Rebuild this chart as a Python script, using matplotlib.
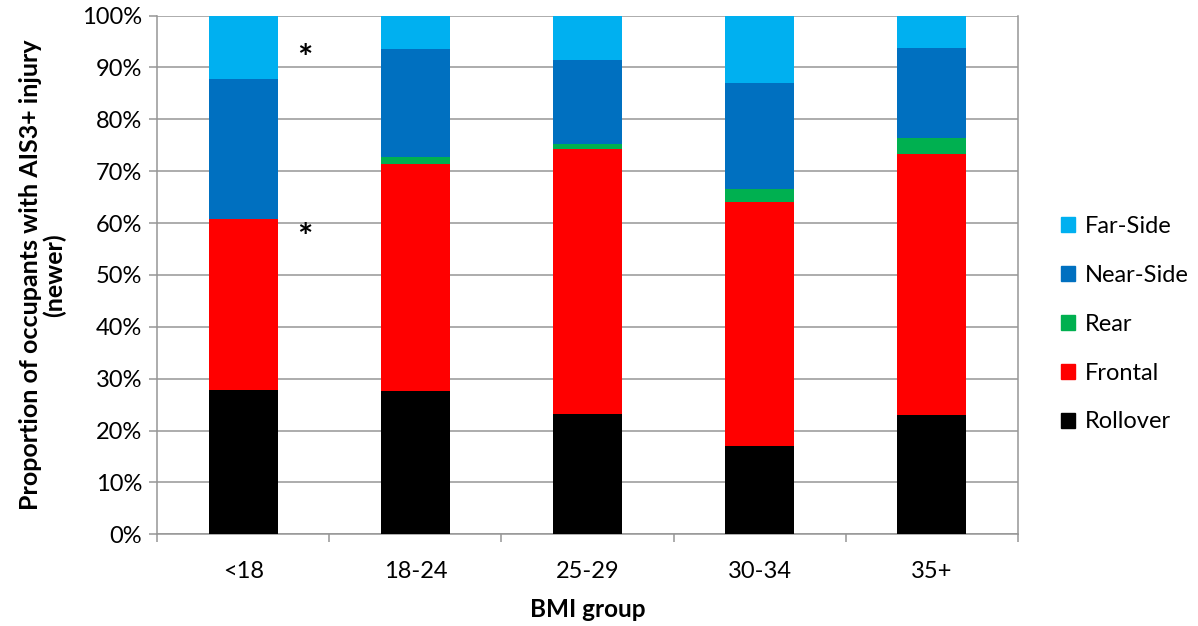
import numpy as np
import matplotlib
matplotlib.use("Agg")
import matplotlib.pyplot as plt
from matplotlib.patches import Patch

plt.rcParams["font.family"] = ["Lato", "DejaVu Sans"]

# data (percent of occupants)
bmi_groups = ["<18", "18-24", "25-29", "30-34", "35+"]
rollover = [27.9, 27.7, 23.1, 17.0, 22.9]
frontal = [32.9, 43.7, 51.1, 47.1, 50.4]
rear = [0.0, 1.4, 1.1, 2.4, 3.1]
near_side = [26.9, 20.8, 16.2, 20.4, 17.3]
far_side = [12.3, 6.4, 8.5, 13.1, 6.3]

series_names = ["Rollover", "Frontal", "Rear", "Near-Side", "Far-Side"]
series_colors = ["#000000", "#FF0000", "#00B050", "#0070C0", "#00B0F0"]

# significance markers: (category index offset, percent height)
star_x = [0.36, 0.36]
star_y = [93.8, 59.3]

fig = plt.figure(figsize=(11.98, 6.26), dpi=100)
ax = fig.add_axes([0.1313, 0.1465, 0.7182, 0.8287])

x = np.arange(len(bmi_groups))
bottom = np.zeros(len(bmi_groups))
for name, vals, col in zip(series_names,
                           [rollover, frontal, rear, near_side, far_side],
                           series_colors):
    ax.bar(x, vals, width=0.4, bottom=bottom, color=col, zorder=3,
           edgecolor="none", label=name)
    bottom += np.array(vals)

ax.set_xlim(-0.5, len(bmi_groups) - 0.5)
ax.set_ylim(0, 100)
ax.set_yticks(np.arange(0, 101, 10))
ax.set_yticklabels([f"{v}%" for v in range(0, 101, 10)])
ax.set_xticks(x)
ax.set_xticklabels(bmi_groups)
ax.set_xticks(np.arange(-0.5, len(bmi_groups)), minor=True)

grid_col = "#969696"
ax.yaxis.grid(True, color=grid_col, linewidth=1.1, zorder=0)
ax.set_axisbelow(True)
for side in ["left", "bottom", "right", "top"]:
    ax.spines[side].set_color(grid_col)
    ax.spines[side].set_linewidth(1.1)
ax.spines["top"].set_visible(False)

ax.tick_params(axis="x", which="major", length=0, labelsize=17, pad=19)
ax.tick_params(axis="x", which="minor", length=6, color=grid_col, width=1.1)
ax.tick_params(axis="y", length=6, color=grid_col, width=1.1, labelsize=17, pad=5)

ax.set_xlabel("BMI group", fontsize=17.5, fontweight="bold", labelpad=12)
ax.set_ylabel("Proportion of occupants with AIS3+ injury\n(newer)",
              fontsize=18, fontweight="bold", labelpad=11, linespacing=1.05)

for sx, sy in zip(star_x, star_y):
    ax.text(sx, sy - 2.2, "*", fontsize=26, fontweight="bold", ha="center", va="center")

handles = [Patch(color=c, label=n) for n, c in zip(series_names, series_colors)][::-1]
fig.legend(handles=handles, loc="upper left", bbox_to_anchor=(0.878, 0.670),
           frameon=False, fontsize=17, handlelength=0.6, handleheight=0.6,
           handletextpad=0.4, labelspacing=1.18, borderaxespad=0)

fig.savefig("out.png", dpi=100)
